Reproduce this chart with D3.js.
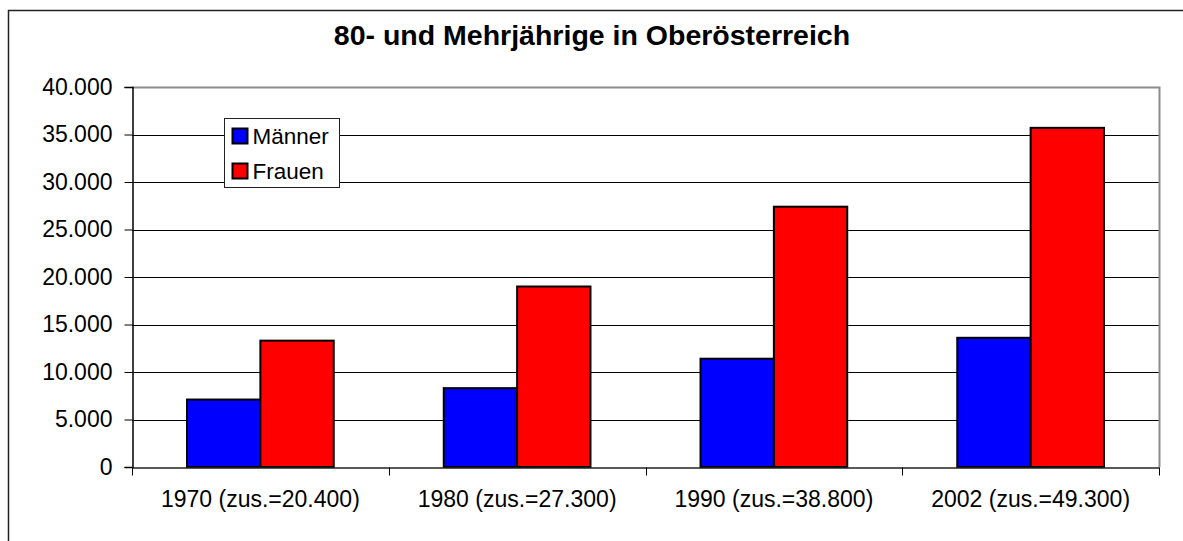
<!DOCTYPE html>
<html lang="de">
<head>
<meta charset="utf-8">
<title>80- und Mehrjährige</title>
<script src="https://d3js.org/d3.v7.min.js"></script>
<style>
  body { margin: 0; background: #fff; }
  text { font-family: Arial, "Liberation Sans", sans-serif; }
</style>
</head>
<body>
<div id="main"></div>
<script>

var categories = ["1970 (zus.=20.400)", "1980 (zus.=27.300)", "1990 (zus.=38.800)", "2002 (zus.=49.300)"]
var series = ["Männer", "Frauen"]
var maenner = [7100, 8300, 11400, 13600]
var frauen = [13300, 19000, 27400, 35700]
var yTicks = [0, 5000, 10000, 15000, 20000, 25000, 30000, 35000, 40000]
var colors = ["#0000ff", "#ff0000"]

var width = 1183,
    height = 541

var svg = d3.select("#main").append("svg")
    .attr("width", width)
    .attr("height", height)

// outer chart frame (runs off the right/bottom edge)
svg.append("rect")
    .attr("x", 8.5).attr("y", 10.5)
    .attr("width", 1200).attr("height", 600)
    .attr("fill", "white")
    .attr("stroke", "#222").attr("stroke-width", 1.5)

svg.append("text")
    .attr("x", 592).attr("y", 45)
    .attr("text-anchor", "middle")
    .attr("font-size", 28.5)
    .attr("font-weight", "bold")
    .text("80- und Mehrjährige in Oberösterreich")

var plotL = 132, plotR = 1159, plotT = 87, plotB = 467

var de = d3.formatLocale({decimal: ",", thousands: ".", grouping: [3], currency: ["", " €"]})

var x0 = d3.scaleBand().domain(categories).range([plotL, plotR])
var x1 = d3.scaleBand().domain(series).range([0, x0.bandwidth()]).paddingOuter(0.75)
var y = d3.scaleLinear().domain([0, 40000]).range([plotB, plotT])

// gridlines
svg.append("g").selectAll("line")
    .data(yTicks.filter(function(d){ return d > 0 && d < 40000 }))
    .enter().append("line")
    .attr("x1", plotL).attr("x2", plotR)
    .attr("y1", function(d){ return Math.round(y(d)) + 0.5 })
    .attr("y2", function(d){ return Math.round(y(d)) + 0.5 })
    .attr("stroke", "#000").attr("stroke-width", 1)

// plot area border (top + right)
svg.append("path")
    .attr("d", "M" + plotL + "," + (plotT + 0.5) + "H" + (plotR + 0.5) + "V" + plotB)
    .attr("fill", "none")
    .attr("stroke", "#8c8c8c").attr("stroke-width", 2)

var data = categories.map(function(c, i){ return {cat: c, values: [maenner[i], frauen[i]]} })

var groups = svg.append("g").selectAll("g")
    .data(data)
    .enter().append("g")
    .attr("transform", function(d){ return "translate(" + x0(d.cat) + ",0)" })

groups.selectAll("rect")
    .data(function(d){ return d.values.map(function(v, j){ return {key: series[j], value: v, idx: j} }) })
    .enter().append("rect")
    .attr("x", function(d){ return x1(d.key) })
    .attr("y", function(d){ return y(d.value) })
    .attr("width", x1.bandwidth())
    .attr("height", function(d){ return plotB - y(d.value) })
    .attr("fill", function(d){ return colors[d.idx] })
    .attr("stroke", "#000").attr("stroke-width", 2)

// y axis
var yAxis = svg.append("g")
    .attr("transform", "translate(" + (plotL + 0.5) + ",0)")
    .call(d3.axisLeft(y).tickValues(yTicks).tickSize(8).tickPadding(12).tickFormat(de.format(",")))
yAxis.select(".domain").attr("stroke", "#000").attr("stroke-width", 1.5)
yAxis.selectAll(".tick line").attr("stroke", "#000")
yAxis.selectAll("text").attr("font-size", 23).attr("fill", "#000")
    .style("font-family", "Arial, 'Liberation Sans', sans-serif")

// x axis
var xAxis = svg.append("g")
    .attr("transform", "translate(0," + (plotB + 0.5) + ")")
    .call(d3.axisBottom(x0).tickSize(0).tickPadding(23))
xAxis.select(".domain").attr("stroke", "#222").attr("stroke-width", 1.5)
xAxis.selectAll("text").attr("font-size", 23).attr("fill", "#000")
    .style("font-family", "Arial, 'Liberation Sans', sans-serif")

// category separator ticks
xAxis.selectAll(".sep")
    .data(categories.map(function(c){ return x0(c) }).concat([plotR]))
    .enter().append("line")
    .attr("class", "sep")
    .attr("x1", function(d){ return Math.round(d) + 0.5 })
    .attr("x2", function(d){ return Math.round(d) + 0.5 })
    .attr("y1", 0).attr("y2", 8)
    .attr("stroke", "#000")

// legend
var legend = svg.append("g").attr("transform", "translate(224.5,118.5)")
legend.append("rect")
    .attr("width", 115).attr("height", 69)
    .attr("fill", "white")
    .attr("stroke", "#222").attr("stroke-width", 1)

var item = legend.selectAll(".item")
    .data(series)
    .enter().append("g")
    .attr("class", "item")
    .attr("transform", function(d, i){ return "translate(8," + (10 + i * 35) + ")" })

item.append("rect")
    .attr("width", 15).attr("height", 15)
    .attr("fill", function(d, i){ return colors[i] })
    .attr("stroke", "#000").attr("stroke-width", 2)

item.append("text")
    .attr("x", 20).attr("y", 15)
    .attr("font-size", 22.5)
    .text(function(d){ return d })

</script>
</body>
</html>
